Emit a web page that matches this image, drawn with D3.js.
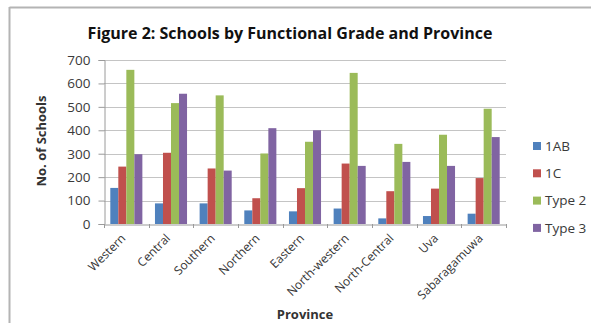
<!DOCTYPE html>
<html>
<head>
<meta charset="utf-8">
<script src="https://cdn.jsdelivr.net/npm/d3@7"></script>
<style>
  html, body { margin: 0; padding: 0; background: #fff; }
  svg { display: block; }
  text { font-family: "Open Sans", Lato, "Liberation Sans", sans-serif; }
</style>
</head>
<body>
<svg id="chart" width="591" height="323"></svg>
<script>
// Schools by functional grade, per province
const provinces = ["Western", "Central", "Southern", "Northern", "Eastern",
  "North-western", "North-Central", "Uva", "Sabaragamuwa"];
const seriesNames = ["1AB", "1C", "Type 2", "Type 3"];
const grade1AB = [154, 88, 88, 58, 54, 66, 24, 34, 44];
const grade1C = [245, 304, 237, 110, 153, 258, 140, 151, 196];
const type2 = [658, 516, 549, 301, 351, 645, 342, 381, 492];
const type3 = [298, 556, 228, 409, 400, 248, 265, 248, 371];
const yTicks = [0, 100, 200, 300, 400, 500, 600, 700];
const colors = ["#4F81BD", "#C0504D", "#9BBB59", "#8064A2"];

const seriesValues = [grade1AB, grade1C, type2, type3];
const rows = provinces.map((p, i) => ({
  province: p,
  values: seriesNames.map((s, j) => ({ series: s, value: seriesValues[j][i] }))
}));

const svg = d3.select("#chart");

// outer frame (top and left edges)
svg.append("line").attr("x1", 9.5).attr("x2", 591).attr("y1", 7.5).attr("y2", 7.5)
  .attr("stroke", "#b4b4b4").attr("stroke-width", 2);
svg.append("line").attr("x1", 9.5).attr("x2", 9.5).attr("y1", 7).attr("y2", 323)
  .attr("stroke", "#b4b4b4").attr("stroke-width", 2);

const plot = { left: 104, right: 506, top: 60, bottom: 224 };

const x0 = d3.scaleBand().domain(provinces).range([plot.left, plot.right]).paddingInner(0).paddingOuter(0);
const groupPad = 6.3;
const x1 = d3.scaleBand().domain(seriesNames)
  .range([groupPad, x0.bandwidth() - groupPad]).padding(0);
const y = d3.scaleLinear().domain([0, 700]).range([plot.bottom, plot.top]);
const color = d3.scaleOrdinal().domain(seriesNames).range(colors);

// title
svg.append("text")
  .attr("x", 290).attr("y", 39)
  .attr("text-anchor", "middle")
  .attr("font-size", 16).attr("font-weight", "bold").attr("fill", "#111")
  .text("Figure 2: Schools by Functional Grade and Province");

// gridlines
svg.append("g")
  .selectAll("line").data(yTicks.filter(t => t > 0)).join("line")
  .attr("x1", plot.left).attr("x2", plot.right)
  .attr("y1", d => Math.round(y(d)) + 0.5).attr("y2", d => Math.round(y(d)) + 0.5)
  .attr("stroke", "#c4c4c4").attr("stroke-width", 1.2);

// y axis
const yAxis = svg.append("g")
  .attr("transform", `translate(${plot.left + 0.5},0)`)
  .call(d3.axisLeft(y).tickValues(yTicks).tickSize(6).tickPadding(8));
yAxis.select(".domain").attr("stroke", "#9a9a9a");
yAxis.selectAll(".tick line").attr("stroke", "#9a9a9a");
yAxis.selectAll(".tick text")
  .attr("font-size", 13.5).attr("fill", "#3a3a3a")
  .attr("font-family", "'Open Sans', Lato, sans-serif");

// bars
svg.append("g")
  .selectAll("g").data(rows).join("g")
  .attr("transform", d => `translate(${x0(d.province)},0)`)
  .selectAll("rect").data(d => d.values).join("rect")
  .attr("x", d => x1(d.series))
  .attr("width", x1.bandwidth())
  .attr("y", d => y(d.value))
  .attr("height", d => y(0) - y(d.value))
  .attr("fill", d => color(d.series));

// x axis
const xAxis = svg.append("g")
  .attr("transform", `translate(0,${plot.bottom + 0.5})`)
  .call(d3.axisBottom(x0).tickSize(0).tickFormat(""));
xAxis.select(".domain").attr("stroke", "#9a9a9a");
xAxis.selectAll(".tick").remove();
// category boundary ticks
const boundaries = provinces.map(p => x0(p)).concat([plot.right]);
svg.append("g").selectAll("line").data(boundaries).join("line")
  .attr("x1", d => Math.round(d) + 0.5).attr("x2", d => Math.round(d) + 0.5)
  .attr("y1", plot.bottom).attr("y2", plot.bottom + 4)
  .attr("stroke", "#9a9a9a");

// rotated category labels
svg.append("g").selectAll("text").data(provinces).join("text")
  .attr("transform", d => `translate(${x0(d) + x0.bandwidth() / 2},${plot.bottom + 15}) rotate(-45)`)
  .attr("text-anchor", "end")
  .attr("font-size", 12).attr("fill", "#333")
  .text(d => d);

// axis titles
svg.append("text")
  .attr("x", 305).attr("y", 319)
  .attr("text-anchor", "middle")
  .attr("font-size", 13).attr("font-weight", "bold").attr("fill", "#333")
  .text("Province");
svg.append("text")
  .attr("transform", "translate(46,141) rotate(-90)")
  .attr("text-anchor", "middle")
  .attr("font-size", 13).attr("font-weight", "bold").attr("fill", "#333")
  .text("No. of Schools");

// legend
const legend = svg.append("g").selectAll("g").data(seriesNames).join("g")
  .attr("transform", (d, i) => `translate(533,${146 + i * 27.3})`);
legend.append("rect")
  .attr("x", 0).attr("y", -4).attr("width", 8).attr("height", 8)
  .attr("fill", d => color(d));
legend.append("text")
  .attr("x", 12).attr("y", 0).attr("dy", "0.35em")
  .attr("font-size", 13.5).attr("fill", "#3a3a3a")
  .text(d => d);
</script>
</body>
</html>
